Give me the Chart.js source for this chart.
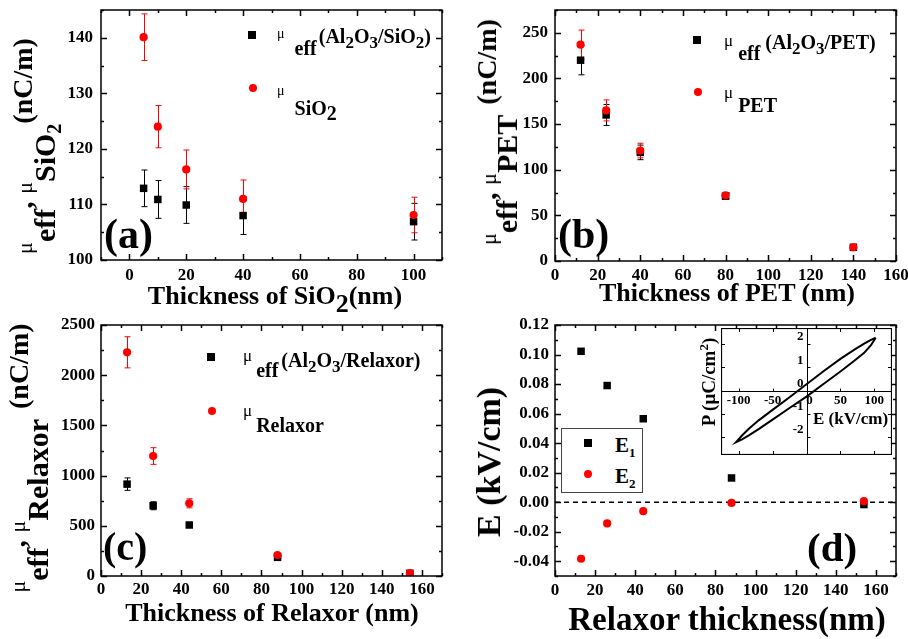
<!DOCTYPE html>
<html>
<head>
<meta charset="utf-8">
<script src="https://cdn.jsdelivr.net/npm/chart.js@4.4.1/dist/chart.umd.min.js"></script>
<style>
html,body{margin:0;padding:0;background:#fff;}
#page{position:relative;width:908px;height:639px;overflow:hidden;background:#fff;}
canvas{position:absolute;}
.txt{position:absolute;white-space:nowrap;line-height:0;font-family:"Liberation Serif","Times New Roman",serif;font-weight:bold;color:#000;}
.txt span{position:relative;}
.txt .mu{font-weight:normal;}
.txt .sb{font-size:17px;top:5px;}
.mark{position:absolute;}
.legbox{position:absolute;border:1px solid #444;background:#fff;box-sizing:border-box;}
</style>
</head>
<body>
<div id="page">
<canvas id="ca" width="454" height="310" style="left:0;top:0"></canvas>
<canvas id="cb" width="454" height="310" style="left:454px;top:0"></canvas>
<canvas id="cc" width="454" height="329" style="left:0;top:310px"></canvas>
<canvas id="cd" width="454" height="329" style="left:454px;top:310px"></canvas>
<canvas id="ci" width="171" height="127" style="left:721px;top:328px;background:#fff"></canvas>
</div>
<script>
// ---- data ----
// (a) SiO2
const thickSiO2 = [5, 10, 20, 40, 100];
const muEffSiO2 = [112.9, 110.9, 109.9, 108, 106.9];
const muEffSiO2Err = [3.3, 3.4, 3.3, 3.4, 3.3];
const muSiO2 = [140.1, 124, 116.3, 111, 108.1];
const muSiO2Err = [4.2, 3.8, 3.5, 3.4, 3.2];
const xTicksA = [0, 20, 40, 60, 80, 100];
const yTicksA = [100, 110, 120, 130, 140];

// (b) PET
const thickPET = [12, 24, 40, 80, 140];
const muEffPET = [220, 160, 119, 71, 15];
const muEffPETErr = [16, 11.5, 8, 3, 2];
const muPET = [237, 165, 121, 72, 15];
const muPETErr = [16, 11.5, 8, 3, 2];
const xTicksB = [0, 20, 40, 60, 80, 100, 120, 140, 160];
const yTicksB = [0, 50, 100, 150, 200, 250];

// (c) Relaxor
const thickRelax = [13, 26, 44, 88, 154];
const muEffRelax = [915, 700, 508, 186, 27];
const muEffRelaxErr = [62, 40, 20, 10, 5];
const muRelax = [2228, 1195, 724, 209, 28];
const muRelaxErr = [155, 83, 45, 10, 5];
const xTicksC = [0, 20, 40, 60, 80, 100, 120, 140, 160];
const yTicksC = [0, 500, 1000, 1500, 2000, 2500];

// (d) fields
const thickE = [13, 26, 44, 88, 154];
const fieldE1 = [0.1022, 0.079, 0.0565, 0.0164, -0.0016];
const fieldE2 = [-0.0383, -0.0144, -0.0061, -0.0005, 0.0007];
const xTicksD = [0, 20, 40, 60, 80, 100, 120, 140, 160];
const yTicksD = [-0.04, -0.02, 0, 0.02, 0.04, 0.06, 0.08, 0.10, 0.12];

// inset P-E loop (upper branch then lower branch)
const loopE = [102, 95, 85, 70, 50, 25, 0, -25, -50, -70, -85, -95, -104, -95, -85, -70, -50, -25, 0, 25, 50, 70, 85, 95, 102];
const loopP = [2.27, 2.18, 2.02, 1.75, 1.36, 0.83, 0.27, -0.29, -0.83, -1.27, -1.64, -1.93, -2.22, -2.10, -1.93, -1.65, -1.25, -0.75, -0.26, 0.28, 0.82, 1.27, 1.62, 1.95, 2.27];
const insetETicks = [-100, -50, 0, 50, 100];
const insetPTicks = [-2, -1, 0, 1, 2];

const SERIF = '"Liberation Serif", "Times New Roman", serif';
const page = document.getElementById('page');

// frame + inward ticks on all four sides
const frameTicks = {
  id: 'frameTicks',
  afterDatasetsDraw(chart, args, opts) {
    const {ctx, chartArea: a, scales: {x, y}} = chart;
    ctx.save();
    ctx.strokeStyle = '#000';
    ctx.lineWidth = 1.5;
    ctx.strokeRect(a.left, a.top, a.right - a.left, a.bottom - a.top);
    ctx.beginPath();
    const xt = (v, len) => {
      const p = Math.round(x.getPixelForValue(v)) + 0.5;
      ctx.moveTo(p, a.bottom); ctx.lineTo(p, a.bottom - len);
      ctx.moveTo(p, a.top); ctx.lineTo(p, a.top + len);
    };
    const yt = (v, len) => {
      const p = Math.round(y.getPixelForValue(v)) + 0.5;
      ctx.moveTo(a.left, p); ctx.lineTo(a.left + len, p);
      ctx.moveTo(a.right, p); ctx.lineTo(a.right - len, p);
    };
    x.ticks.forEach(t => xt(t.value, 6));
    y.ticks.forEach(t => yt(t.value, 6));
    for (let v = Math.ceil(x.min / opts.xMinor) * opts.xMinor; v <= x.max; v += opts.xMinor) xt(v, 3);
    for (let v = Math.ceil(y.min / opts.yMinor - 1e-9) * opts.yMinor; v <= y.max + 1e-9; v += opts.yMinor) yt(v, 3);
    ctx.stroke();
    ctx.restore();
  }
};

// vertical error bars with caps
const errorBars = {
  id: 'errorBars',
  beforeDatasetsDraw(chart) {
    const {ctx, scales: {x, y}} = chart;
    chart.data.datasets.forEach(ds => {
      if (!ds.errors) return;
      ctx.save();
      ctx.strokeStyle = ds.backgroundColor;
      ctx.lineWidth = 1;
      ctx.beginPath();
      ds.data.forEach((p, i) => {
        const e = ds.errors[i];
        const px = Math.round(x.getPixelForValue(p.x)) + 0.5;
        const t = y.getPixelForValue(p.y + e), b = y.getPixelForValue(p.y - e);
        ctx.moveTo(px, t); ctx.lineTo(px, b);
        ctx.moveTo(px - 3, t); ctx.lineTo(px + 3, t);
        ctx.moveTo(px - 3, b); ctx.lineTo(px + 3, b);
      });
      ctx.stroke();
      ctx.restore();
    });
  }
};

// dashed line at zero for (d)
const zeroLine = {
  id: 'zeroLine',
  beforeDatasetsDraw(chart, args, opts) {
    if (!opts.show) return;
    const {ctx, chartArea: a, scales: {y}} = chart;
    const p = y.getPixelForValue(0);
    ctx.save();
    ctx.setLineDash([5, 4]);
    ctx.lineWidth = 1.5;
    ctx.strokeStyle = '#000';
    ctx.beginPath(); ctx.moveTo(a.left, p); ctx.lineTo(a.right, p); ctx.stroke();
    ctx.restore();
  }
};

function series(xs, ys, errs, kind, label) {
  return {
    label: label,
    data: xs.map((v, i) => ({x: v, y: ys[i]})),
    errors: errs,
    pointStyle: kind === 'sq' ? 'rect' : 'circle',
    pointRadius: kind === 'sq' ? 5.3 : 4.1,
    backgroundColor: kind === 'sq' ? '#000' : '#ff0000',
    borderWidth: 0,
    order: kind === 'sq' ? 2 : 1
  };
}

function panel(id, datasets, ax) {
  const tickFont = {family: SERIF, size: 17, weight: 'bold'};
  return new Chart(document.getElementById(id), {
    type: 'scatter',
    data: {datasets: datasets},
    options: {
      responsive: false,
      animation: false,
      devicePixelRatio: 1,
      layout: {padding: {top: ax.top, right: ax.right, left: 0, bottom: 0}},
      plugins: {
        legend: {display: false},
        tooltip: {enabled: false},
        frameTicks: {xMinor: ax.xMinor, yMinor: ax.yMinor},
        zeroLine: {show: !!ax.zero}
      },
      scales: {
        x: {
          type: 'linear', min: ax.xMin, max: ax.xMax,
          afterBuildTicks: s => { s.ticks = ax.xTicks.map(v => ({value: v})); },
          afterFit: s => { s.height = ax.xHeight; s.paddingLeft = 0; s.paddingRight = 0; },
          grid: {display: false, drawTicks: false},
          border: {display: false},
          ticks: {font: tickFont, color: '#000', padding: ax.xPad, maxRotation: 0, autoSkip: false,
                  callback: v => String(v)}
        },
        y: {
          type: 'linear', min: ax.yMin, max: ax.yMax,
          afterBuildTicks: s => { s.ticks = ax.yTicks.map(v => ({value: v})); },
          afterFit: s => { s.width = 101; s.paddingTop = 0; s.paddingBottom = 0; },
          grid: {display: false, drawTicks: false},
          border: {display: false},
          ticks: {font: tickFont, color: '#000', padding: ax.yPad, autoSkip: false,
                  callback: ax.yFmt || (v => String(v))}
        }
      }
    },
    plugins: [errorBars, zeroLine, frameTicks]
  });
}

panel('ca', [
  series(thickSiO2, muEffSiO2, muEffSiO2Err, 'sq', 'μeff(Al2O3/SiO2)'),
  series(thickSiO2, muSiO2, muSiO2Err, 'dot', 'μSiO2')
], {xMin: -10, xMax: 110, xTicks: xTicksA, xMinor: 10, yMin: 100, yMax: 145, yTicks: yTicksA, yMinor: 5,
    top: 10, right: 12, xHeight: 50, xPad: 5, yPad: 8});

panel('cb', [
  series(thickPET, muEffPET, muEffPETErr, 'sq', 'μeff(Al2O3/PET)'),
  series(thickPET, muPET, muPETErr, 'dot', 'μPET')
], {xMin: 0, xMax: 160, xTicks: xTicksB, xMinor: 10, yMin: 0, yMax: 275, yTicks: yTicksB, yMinor: 25,
    top: 10, right: 12, xHeight: 49, xPad: 4, yPad: 7});

panel('cc', [
  series(thickRelax, muEffRelax, muEffRelaxErr, 'sq', 'μeff(Al2O3/Relaxor)'),
  series(thickRelax, muRelax, muRelaxErr, 'dot', 'μRelaxor')
], {xMin: 0, xMax: 170, xTicks: xTicksC, xMinor: 10, yMin: 0, yMax: 2500, yTicks: yTicksC, yMinor: 250,
    top: 15, right: 12, xHeight: 63, xPad: 3, yPad: 6});

panel('cd', [
  series(thickE, fieldE1, null, 'sq', 'E1'),
  series(thickE, fieldE2, null, 'dot', 'E2')
], {xMin: 0, xMax: 170, xTicks: xTicksD, xMinor: 10, yMin: -0.05, yMax: 0.12, yTicks: yTicksD, yMinor: 0.01,
    top: 15, right: 12, xHeight: 63, xPad: 4, yPad: 6, zero: true, yFmt: v => v.toFixed(2)});

// inset hysteresis loop with axes through the origin
const insetAxes = {
  id: 'insetAxes',
  beforeDatasetsDraw(chart) {
    const {ctx, chartArea: a, scales: {x, y}} = chart;
    const x0 = Math.round(x.getPixelForValue(0)) + 0.5;
    const y0 = Math.round(y.getPixelForValue(0)) + 0.5;
    ctx.save();
    ctx.strokeStyle = '#000';
    ctx.lineWidth = 1.2;
    ctx.strokeRect(a.left + 0.5, a.top + 0.5, a.right - a.left - 1, a.bottom - a.top - 1);
    ctx.lineWidth = 1;
    ctx.beginPath();
    ctx.moveTo(a.left, y0); ctx.lineTo(a.right, y0);
    ctx.moveTo(x0, a.top); ctx.lineTo(x0, a.bottom);
    insetETicks.forEach(v => {
      const p = Math.round(x.getPixelForValue(v)) + 0.5;
      ctx.moveTo(p, a.top); ctx.lineTo(p, a.top + 4);
      ctx.moveTo(p, a.bottom); ctx.lineTo(p, a.bottom - 4);
      ctx.moveTo(p, y0); ctx.lineTo(p, y0 - 3);
    });
    insetPTicks.forEach(v => {
      const p = Math.round(y.getPixelForValue(v)) + 0.5;
      ctx.moveTo(a.left, p); ctx.lineTo(a.left + 4, p);
      ctx.moveTo(a.right, p); ctx.lineTo(a.right - 4, p);
      ctx.moveTo(x0, p); ctx.lineTo(x0 + 3, p);
    });
    ctx.stroke();
    ctx.fillStyle = '#000';
    ctx.font = 'bold 13px ' + SERIF;
    ctx.textAlign = 'center';
    ctx.textBaseline = 'middle';
    insetETicks.forEach(v => ctx.fillText(String(v), x.getPixelForValue(v) + (v === 0 ? 3 : 0), y0 + 9));
    ctx.textAlign = 'right';
    insetPTicks.forEach(v => ctx.fillText(String(v), x0 - 4, y.getPixelForValue(v) - 7));
    ctx.restore();
  }
};

new Chart(document.getElementById('ci'), {
  type: 'scatter',
  data: {datasets: [{
    label: 'P-E',
    data: loopE.map((e, i) => ({x: e, y: loopP[i]})),
    showLine: true, borderColor: '#000', borderWidth: 2, pointRadius: 0, tension: 0, fill: false
  }]},
  options: {
    responsive: false, animation: false, devicePixelRatio: 1,
    layout: {padding: 0},
    plugins: {legend: {display: false}, tooltip: {enabled: false}},
    scales: {
      x: {type: 'linear', display: false, min: -126, max: 126},
      y: {type: 'linear', display: false, min: -2.77, max: 2.69}
    }
  },
  plugins: [insetAxes]
});

// ---- text overlays ----
function htext(html, x, base, size, center) {
  const d = document.createElement('div');
  d.className = 'txt';
  d.innerHTML = html;
  d.style.fontSize = size + 'px';
  d.style.left = x + 'px';
  d.style.top = (base - 0.3375 * size) + 'px';
  if (center) d.style.transform = 'translateX(-50%)';
  page.appendChild(d);
}
function vtext(html, baseX, centerY, size) {
  const d = document.createElement('div');
  d.className = 'txt';
  d.innerHTML = html;
  d.style.fontSize = size + 'px';
  d.style.left = (baseX - 0.3375 * size) + 'px';
  d.style.top = centerY + 'px';
  d.style.transformOrigin = '0 0';
  d.style.transform = 'rotate(-90deg) translateX(-50%)';
  page.appendChild(d);
}
function marker(kind, cx, cy) {
  const m = document.createElement('div');
  m.className = 'mark';
  m.style.left = (cx - 4) + 'px';
  m.style.top = (cy - 4) + 'px';
  m.style.width = '8px';
  m.style.height = '8px';
  m.style.background = kind === 'sq' ? '#000' : '#ff0000';
  if (kind !== 'sq') m.style.borderRadius = '50%';
  page.appendChild(m);
}

// axis titles
htext('Thickness of SiO<span style="top:8px">2</span>(nm)', 275, 305, 26, true);
htext('Thickness of PET (nm)', 727, 302, 26, true);
htext('Thickness of Relaxor (nm)', 272, 622, 26, true);
htext('Relaxor thickness(nm)', 727, 630, 33, true);

function muTitle(sub, rise, unitRise, gap) {
  const mu = '<span class="mu" style="font-size:22px;top:' + rise + 'px">μ</span>';
  return mu + 'eff<span style="top:' + rise + 'px">,</span> ' + mu + sub +
    '<span style="font-size:28px;top:' + unitRise + 'px;margin-left:' + gap + 'px">(nC/m)</span>';
}
vtext(muTitle('SiO<span style="font-size:20px;top:6px">2</span>', -23, -23, 0), 55, 146, 30);
vtext(muTitle('PET', -21, -21, 10), 517, 132, 30);
vtext(muTitle('Relaxor', -23, -20, 10), 48, 458, 30);
vtext('E (kV/cm)', 500, 462, 34);

// panel letters
htext('(a)', 104, 248, 42);
htext('(b)', 558, 248, 42);
htext('(c)', 103, 560, 40);
htext('(d)', 807, 561, 41);

// legends
marker('sq', 252, 35);
htext('<span class="mu" style="font-size:14px;top:-17px">μ</span><span style="margin-left:10px">eff</span><span style="top:-12px;margin-left:2px">(Al<span class="sb">2</span>O<span class="sb">3</span>/SiO<span class="sb">2</span>)</span>', 277, 55, 20);
marker('dot', 253, 87.5);
htext('<span class="mu" style="font-size:14px;top:-20px">μ</span><span style="margin-left:10px">SiO<span style="top:5px">2</span></span>', 277, 115, 20);

marker('sq', 697, 40);
htext('<span class="mu" style="font-size:17px;top:-14px">μ</span><span style="margin-left:5px">eff</span><span style="top:-11px;margin-left:5px">(Al<span class="sb">2</span>O<span class="sb">3</span>/PET)</span>', 724, 60, 20);
marker('dot', 698, 92);
htext('<span class="mu" style="font-size:17px;top:-14px">μ</span><span style="margin-left:5px">PET</span>', 724, 112, 20);

marker('sq', 211, 357);
htext('<span class="mu" style="font-size:17px;top:-16px">μ</span><span style="margin-left:4px">eff</span><span style="top:-10px;margin-left:3px">(Al<span class="sb">2</span>O<span class="sb">3</span>/Relaxor)</span>', 243, 377, 20);
marker('dot', 212, 411);
htext('<span class="mu" style="font-size:17px;top:-16px">μ</span><span style="margin-left:4px">Relaxor</span>', 243, 432, 20);

// legend box in (d)
const box = document.createElement('div');
box.className = 'legbox';
box.style.left = '561px'; box.style.top = '428px'; box.style.width = '82px'; box.style.height = '65px';
page.appendChild(box);
marker('sq', 588, 443);
htext('E<span style="font-size:13px;top:5px">1</span>', 615, 452, 21);
marker('dot', 588, 474);
htext('E<span style="font-size:13px;top:5px">2</span>', 615, 483, 21);

// inset titles
htext('E (kV/cm)', 813, 424.5, 17);
vtext('P (<span class="mu" style="font-weight:bold">μ</span>C/cm<span style="font-size:13px;top:-7px">2</span>)', 715, 382, 19);
</script>
</body>
</html>
